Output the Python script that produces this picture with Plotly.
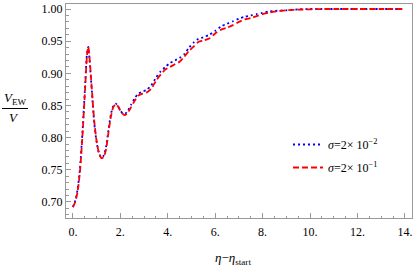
import plotly.graph_objects as go

# data
eta = [0, 0.1, 0.2, 0.3, 0.4, 0.5, 0.6, 0.65, 0.7, 0.8, 0.9, 1.0, 1.1, 1.2, 1.3, 1.4, 1.5,
       1.6, 1.7, 1.8, 1.9, 2.0, 2.1, 2.2, 2.3, 2.45, 2.6, 2.75, 2.9, 3.1, 3.3, 3.5, 3.7,
       3.9, 4.1, 4.3, 4.5, 4.7, 4.9, 5.1, 5.3, 5.5, 5.75, 6.0, 6.25, 6.5, 6.75, 7.0, 7.25,
       7.5, 7.75, 8.0, 8.25, 8.5, 9.0, 9.5, 10.0, 10.5, 11.0, 12.0, 13.0, 14.0]

ratio_sigma_2e2 = [0.692, 0.702, 0.720, 0.752, 0.806, 0.870, 0.933, 0.941, 0.922, 0.872,
                   0.823, 0.793, 0.776, 0.769, 0.772, 0.786, 0.812, 0.836, 0.849, 0.853,
                   0.849, 0.842, 0.838, 0.837, 0.841, 0.851, 0.861, 0.868, 0.871, 0.874,
                   0.881, 0.893, 0.903, 0.910, 0.916, 0.920, 0.924, 0.930, 0.940, 0.948,
                   0.954, 0.956, 0.960, 0.966, 0.973, 0.977, 0.981, 0.985, 0.988, 0.990,
                   0.992, 0.994, 0.996, 0.997, 0.998, 0.9995, 1.0, 1.0, 1.0, 1.0, 1.0, 1.0]

ratio_sigma_2e1 = [0.692, 0.700, 0.716, 0.748, 0.800, 0.865, 0.930, 0.941, 0.925, 0.875,
                   0.826, 0.795, 0.776, 0.768, 0.770, 0.782, 0.808, 0.832, 0.847, 0.852,
                   0.849, 0.842, 0.837, 0.835, 0.838, 0.847, 0.857, 0.865, 0.868, 0.870,
                   0.876, 0.888, 0.898, 0.906, 0.910, 0.914, 0.918, 0.926, 0.935, 0.942,
                   0.949, 0.951, 0.954, 0.962, 0.968, 0.971, 0.975, 0.980, 0.984, 0.986,
                   0.989, 0.992, 0.994, 0.996, 0.998, 0.999, 0.9995, 1.0, 1.0, 1.0, 1.0, 1.0]

x_tickvals = [0, 2, 4, 6, 8, 10, 12, 14]
x_ticktext = ["0.", "2.", "4.", "6.", "8.", "10.", "12.", "14."]
y_tickvals = [0.70, 0.75, 0.80, 0.85, 0.90, 0.95, 1.00]
y_ticktext = ["0.70", "0.75", "0.80", "0.85", "0.90", "0.95", "1.00"]

series_names = ["<i>σ</i>=2× 10<sup>−2</sup>", "<i>σ</i>=2× 10<sup>−1</sup>"]

FONT = "Liberation Serif"
W, H = 415, 267
L, R, T, B = 66, 3, 4, 49
pw, ph = W - L - R, H - T - B

def px(xp):
    return (xp - L) / pw

def py(yp):
    return (H - B - yp) / ph

fig = go.Figure()
fig.add_trace(go.Scatter(x=eta, y=ratio_sigma_2e2, mode="lines", name=series_names[0],
                         legendgroup="a",
                         line=dict(color="rgb(0,0,255)", width=1.8, dash="2px,3px",
                                   shape="spline", smoothing=0.6)))
fig.add_trace(go.Scatter(x=eta, y=ratio_sigma_2e1, mode="lines", name=series_names[1],
                         legendgroup="b",
                         line=dict(color="rgb(255,0,0)", width=1.8, dash="6px,3px",
                                   shape="spline", smoothing=0.6)))

axis_common = dict(showgrid=False, zeroline=False, showline=True, linecolor="#999999",
                   linewidth=1, mirror=True, ticks="inside", tickcolor="#999999",
                   automargin=False, ticklabeloverflow="allow",
                   tickfont=dict(family=FONT, size=12, color="black"))

fig.update_xaxes(range=[-0.29, 14.3], tickvals=x_tickvals, ticktext=x_ticktext,
                 ticklen=5, ticklabelstandoff=3,
                 minor=dict(dtick=0.5, tick0=0, ticklen=2.5, ticks="inside",
                            tickcolor="#999999"),
                 **axis_common)
fig.update_yaxes(range=[0.675, 1.0078], tickvals=y_tickvals, ticktext=y_ticktext,
                 ticklen=5,
                 minor=dict(dtick=0.01, tick0=0.7, ticklen=2.5, ticks="inside",
                            tickcolor="#999999"),
                 **axis_common)

annotations = [
    dict(x=px(15), y=py(98), xref="paper", yref="paper", showarrow=False,
         xanchor="center", yanchor="middle",
         text="<i>V</i><sub>EW</sub>", font=dict(family=FONT, size=13, color="black")),
    dict(x=px(14), y=py(118), xref="paper", yref="paper", showarrow=False,
         xanchor="center", yanchor="middle",
         text="<i>V</i>", font=dict(family=FONT, size=13, color="black")),
    dict(x=px(233), y=py(258.5), xref="paper", yref="paper", showarrow=False,
         xanchor="center", yanchor="middle",
         text="<i>η</i>−<i>η</i><sub>start</sub>", font=dict(family=FONT, size=13, color="black")),
]
shapes = [dict(type="line", xref="paper", yref="paper", x0=px(2), x1=px(28),
               y0=py(108.5), y1=py(108.5), line=dict(color="black", width=1))]

fig.update_layout(
    width=W, height=H, margin=dict(l=L, r=R, t=T, b=B),
    paper_bgcolor="white", plot_bgcolor="white",
    font=dict(family=FONT, size=12, color="black"),
    annotations=annotations, shapes=shapes,
    legend=dict(x=px(288), y=py(130), xanchor="left", yanchor="top",
                bgcolor="rgba(0,0,0,0)", font=dict(family=FONT, size=12),
                itemwidth=30, tracegroupgap=4, traceorder="grouped"),
    showlegend=True,
)

fig.write_html("out.html", config={"displayModeBar": False},
               post_script="document.body.style.margin='0';document.body.style.padding='0';")
